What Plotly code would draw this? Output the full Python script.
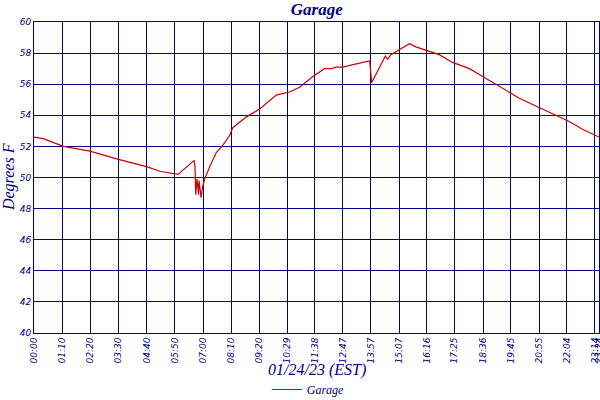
import plotly.graph_objs as go

# Garage temperature log, 01/24/23
times = ['00:00', '00:23', '01:13', '02:19', '03:25', '04:40', '05:13', '05:54', '05:58',
         '06:38', '06:40', '06:42', '06:45', '06:49', '06:50', '06:54', '06:55', '06:59',
         '07:04', '07:17', '07:33', '07:50', '08:06', '08:14', '08:39', '08:48', '09:21',
         '10:02', '10:35', '10:43', '11:00', '11:33', '12:02', '12:19', '12:31', '12:47',
         '13:16', '13:37', '13:54', '13:55', '13:59', '14:10', '14:23', '14:33', '14:39',
         '14:47', '15:08', '15:33', '15:49', '16:14', '16:47', '17:20', '18:02', '18:35',
         '19:08', '19:41', '20:06', '20:47', '21:37', '22:10', '22:43', '23:24']
temps = [52.6, 52.5, 52.0, 51.7, 51.2, 50.7, 50.4, 50.2, 50.2,
         51.1, 50.7, 48.9, 49.9, 48.9, 49.8, 49.0, 48.7, 49.4,
         49.9, 50.7, 51.6, 52.1, 52.7, 53.2, 53.7, 53.9, 54.4,
         55.3, 55.5, 55.6, 55.8, 56.5, 57.0, 57.0, 57.1, 57.1,
         57.3, 57.4, 57.5, 57.3, 56.1, 56.7, 57.3, 57.8, 57.6,
         57.9, 58.2, 58.6, 58.4, 58.2, 57.9, 57.4, 57.0, 56.5,
         56.0, 55.5, 55.1, 54.6, 54.0, 53.6, 53.1, 52.6]

tick_labels = ['00:00', '01:10', '02:20', '03:30', '04:40', '05:50', '07:00', '08:10',
               '09:20', '10:29', '11:38', '12:47', '13:57', '15:07', '16:16', '17:25',
               '18:36', '19:45', '20:55', '22:04', '23:14', '23:24']


def to_min(t):
    h, m = t.split(':')
    return int(h) * 60 + int(m)


navy = '#000080'
x = [to_min(t) for t in times]
tickvals = [to_min(t) for t in tick_labels]

trace1 = go.Scatter(
    x=x, y=temps, mode='lines', name='Garage',
    line=dict(color='#cc0000', width=1.2)
)

layout = go.Layout(
    width=600,
    height=400,
    margin=dict(l=34, r=1, t=22, b=67, autoexpand=False),
    paper_bgcolor='white',
    plot_bgcolor='white',
    title=dict(
        text='<b>Garage</b>', x=0.528, xanchor='center', y=0.978, yanchor='middle',
        font=dict(family='Liberation Serif', size=17, color=navy, style='italic')
    ),
    xaxis=dict(
        range=[0, tickvals[-1]], automargin=False,
        tickmode='array', tickvals=tickvals, ticktext=tick_labels,
        tickangle=-90, ticklabeloverflow='allow',
        tickfont=dict(family='DejaVu Sans', size=9, color=navy, style='italic'),
        showgrid=True, gridcolor=navy, gridwidth=1,
        showline=True, linecolor=navy, linewidth=1, mirror=True,
        zeroline=False, ticks=''
    ),
    yaxis=dict(
        range=[40, 60], dtick=2, automargin=False,
        tickfont=dict(family='DejaVu Sans', size=9, color=navy, style='italic'),
        showgrid=True, gridcolor=navy, gridwidth=1,
        showline=True, linecolor=navy, linewidth=1, mirror=True,
        zeroline=False, ticks=''
    ),
    showlegend=True,
    legend=dict(
        orientation='h', x=0.412, xanchor='left', y=-0.135, yanchor='top',
        font=dict(family='Liberation Serif', size=12, color=navy, style='italic'),
        itemwidth=30
    ),
    annotations=[
        dict(text='01/24/23 (EST)', xref='paper', yref='paper', x=0.5, y=-0.085,
             xanchor='center', yanchor='top', showarrow=False,
             font=dict(family='Liberation Serif', size=16, color=navy, style='italic')),
        dict(text='Degrees F', xref='paper', yref='paper', x=-0.045, y=0.5,
             xanchor='center', yanchor='middle', showarrow=False, textangle=-90,
             font=dict(family='Liberation Serif', size=16, color=navy, style='italic'))
    ]
)

fig = go.Figure(data=[trace1], layout=layout)
# page body has a default 8px margin; drop it so the figure sits at the corner
fig.write_html('out.html', config={'displayModeBar': False},
               post_script="document.body.style.margin='0';")
